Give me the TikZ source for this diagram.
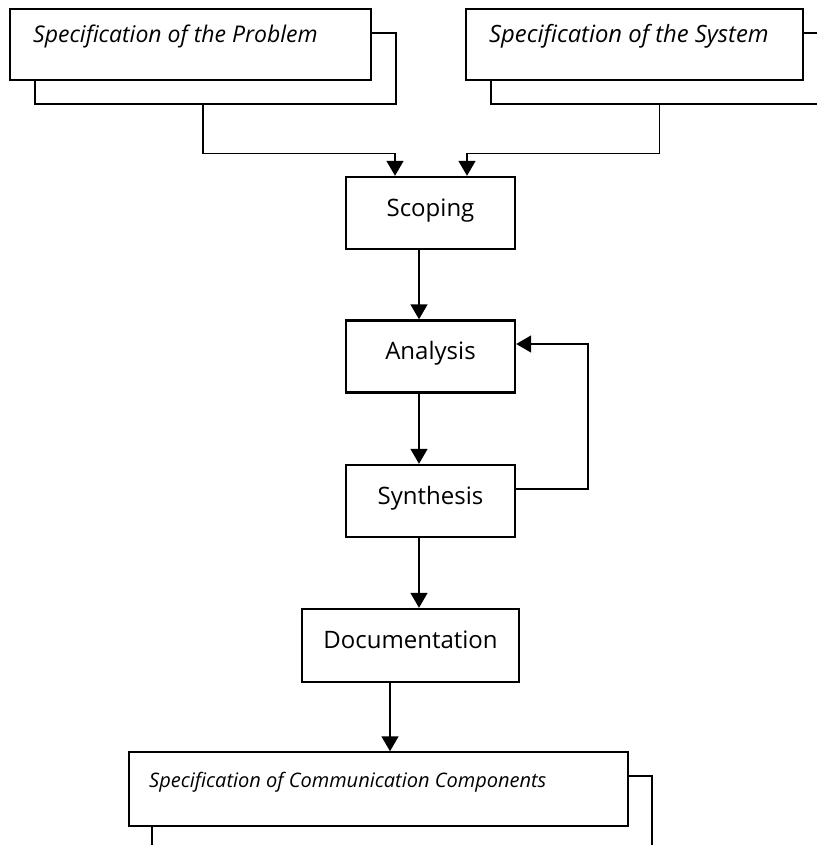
\documentclass[tikz,border=0pt]{standalone}
\usepackage{fontspec}
\setmainfont{Open Sans}
\usetikzlibrary{arrows.meta}
\begin{document}
\begin{tikzpicture}[x=1pt,y=-1pt,
  procbox/.style={draw,line width=2.4pt,fill=white,minimum width=169pt,minimum height=72pt,
    inner sep=0pt,text height=17pt,text depth=11pt,font=\fontsize{24}{28}\selectfont},
  docbox/.style={draw,line width=1.5pt,fill=white,inner sep=0pt},
  doclabel/.style={inner sep=0pt,font=\fontsize{23}{26}\selectfont\itshape},
  conn/.style={line width=1.5pt,-{Triangle[length=15pt,width=17pt]}}]
\useasboundingbox (0,0) rectangle (816,845);

% stacked document: problem specification
\node[docbox,minimum width=361pt,minimum height=71pt] (probBack) at (215.5,68.5) {};
\node[docbox,minimum width=361pt,minimum height=71pt] (prob) at (190.5,44.5) {};
\node[doclabel,anchor=base west] (probText) at (33,43) {Specification of the Problem};

% stacked document: system specification
\node[docbox,minimum width=337pt,minimum height=71pt] (sysBack) at (659.5,68.5) {};
\node[docbox,minimum width=337pt,minimum height=71pt] (sys) at (634.5,44.5) {};
\node[doclabel,font=\fontsize{23.8}{27}\selectfont\itshape,anchor=base west] (sysText) at (489,43) {Specification of the System};

% process steps
\node[procbox] (scoping) at (430.5,213) {Scoping};
\node[procbox] (analysis) at (430.5,356.5) {Analysis};
\node[procbox] (synthesis) at (430.5,501) {Synthesis};
\node[procbox,minimum width=217pt,minimum height=73pt] (documentation) at (410.5,645.5) {Documentation};

% stacked document: communication components
\node[docbox,minimum width=500pt,minimum height=74pt] (commBack) at (402,813) {};
\node[docbox,minimum width=499pt,minimum height=74pt] (comm) at (378.5,789) {};
\node[doclabel,font=\fontsize{20}{24}\selectfont\itshape,anchor=base west] (commText) at (149,787) {Specification of Communication Components};

% connectors
\draw[conn] ([xshift=-12.5pt]probBack.south) -- ++(0,49) -| ([xshift=-35.5pt]scoping.north);
\draw[conn] (sysBack.south) -- ++(0,49) -| ([xshift=36.5pt]scoping.north);
\draw[conn] ([xshift=-11.5pt]scoping.south) -- ([xshift=-11.5pt]analysis.north);
\draw[conn] ([xshift=-11.5pt]analysis.south) -- ([xshift=-11.5pt]synthesis.north);
\draw[conn] ([yshift=12pt]synthesis.east) -- ++(72,0) |- ([yshift=12.5pt]analysis.east);
\draw[conn] ([xshift=-11.5pt]synthesis.south) -- ([xshift=8.5pt]documentation.north);
\draw[conn] ([xshift=-20.5pt]documentation.south) -- ([xshift=11.5pt]comm.north);
\end{tikzpicture}
\end{document}
